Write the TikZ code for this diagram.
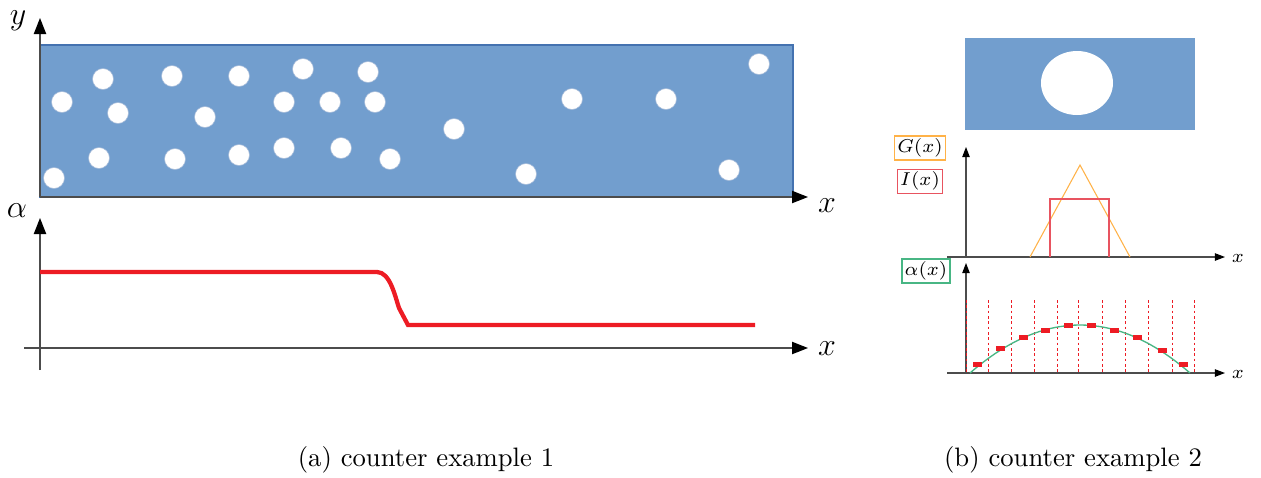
\documentclass[tikz,border=0pt]{standalone}
\usepackage{amsmath}
\usepackage{tikz}
\usetikzlibrary{arrows.meta, positioning, calc}
\definecolor{cBlue}{RGB}{114,158,206}
\definecolor{cBlueEdge}{RGB}{68,114,176}
\definecolor{cRed}{RGB}{237,28,36}
\definecolor{cOrange}{RGB}{255,178,72}
\definecolor{cPink}{RGB}{232,84,96}
\definecolor{cGreen}{RGB}{72,182,132}
\tikzset{
	axisbig/.style  ={-{Triangle[length=6pt, width=4.6pt, color=black]}, draw=black!70, line width=0.5pt},
	axissmall/.style={-{Triangle[length=3.8pt, width=2.8pt, color=black]}, draw=black!70, line width=0.4pt},
	plate/.style    ={fill=cBlue, draw=cBlueEdge, line width=0.4pt},
	hole/.style     ={fill=white, draw=cBlueEdge!50, line width=0.2pt},
	funlab/.style   ={draw, line width=0.4pt, inner sep=1pt, font=\scriptsize},
	stripe/.style   ={cRed, line width=0.3pt, dash pattern=on 1pt off 1pt},
}
\begin{document}
\begin{tikzpicture}[x=0.375pt, y=-0.375pt]
	\useasboundingbox (0,0) rectangle (1261,477);
	% (a) plate with many holes
	\draw[plate] (40,45) rectangle (793,197);
	\foreach \p in {(62,102),(103,79),(118,113),(172,76),(205,117),(239,76),(303,69),(368,72),
		(284,102),(330,102),(375,102),(54,178),(99,158),(175,159),(239,155),(284,148),(341,148),
		(390,159),(454,129),(526,174),(572,99),(666,99),(759,64),(729,170)}
		\draw[hole] \p circle (10.5);
	\coordinate (oA) at (40,197);
	\coordinate (yTip) at (40,18);
	\coordinate (xTip) at (808,197);
	\draw[axisbig] (oA) -- (yTip);
	\draw[axisbig] (oA) -- (xTip);
	\node[font=\large, inner sep=0pt] (yLab) at (18,21) {$y$};
	\node[font=\large] (xLab) at (827,206) {$x$};
	% alpha along the plate
	\coordinate (aBot) at (40,370);
	\coordinate (aTip) at (40,218);
	\coordinate (hL) at (24,348);
	\coordinate (hTip) at (808,348);
	\draw[axisbig] (aBot) -- (aTip);
	\draw[axisbig] (hL) -- (hTip);
	\node[font=\large] (alphaLab) at (17,211) {$\alpha$};
	\node[font=\large] (xLabB) at (827,349) {$x$};
	\draw[cRed, line width=1.6pt] (40,272) -- (377,272) .. controls (390,272) and (395,296) .. (399,308) -- (408,325) -- (755,325);
	\node (capA) at (426,460) {(a) counter example 1};

	% (b) plate with one hole
	\fill[cBlue] (965,38) rectangle (1195,130);
	\fill[white] (1077,83) ellipse (36 and 32);
	% G(x) and I(x)
	\draw[axissmall] (966,257) -- (966,147);
	\draw[axissmall] (947,257) -- (1225,257);
	\node[font=\scriptsize] (xLabG) at (1238,258) {$x$};
	\draw[cOrange, line width=0.4pt] (1030,257) -- (1080,165) -- (1130,257);
	\draw[cPink, line width=0.5pt] (1050,257) -- (1050,199) -- (1109,199) -- (1109,257);
	\node[funlab, draw=cOrange] (gLab) at (920,148) {$G(x)$};
	\node[funlab, draw=cPink, below=3pt of gLab] (iLab) {$I(x)$};
	% alpha(x)
	\draw[axissmall] (966,373) -- (966,263);
	\draw[axissmall] (947,373) -- (1225,373);
	\node[font=\scriptsize] (xLabA) at (1238,374) {$x$};
	\node[funlab, draw=cGreen] (aLab) at (926,271) {$\alpha(x)$};
	\foreach \x in {966,988,1011,1034,1057,1078,1102,1125,1148,1172,1194}
		\draw[stripe] (\x,300) -- (\x,373);
	\draw[cGreen, line width=0.5pt] plot[domain=970:1190, samples=45] (\x, {373-48*(1-((\x-1080)/110)^2)});
	\foreach \p in {(977,364),(1000,348),(1023,337),(1045,330),(1068,325),(1091,325),(1114,330),(1137,337),(1162,350),(1183,364)}
		\fill[cRed] \p ++(-4.5,-2.5) rectangle ++(9,5);
	\node (capB) at (1073,460) {(b) counter example 2};
\end{tikzpicture}
\end{document}
